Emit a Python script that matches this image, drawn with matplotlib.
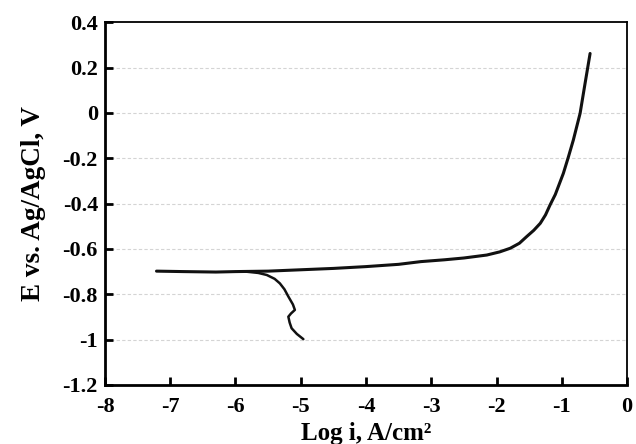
#!/usr/bin/env python3

import matplotlib
matplotlib.use("Agg")
import matplotlib.pyplot as plt


# anodic branch (log i, E)
anodic_logi = [-7.21, -6.8, -6.3, -6.0, -5.5, -5.0, -4.5, -4.0, -3.5, -3.16,
               -2.8, -2.5, -2.15, -1.95, -1.79, -1.65, -1.54, -1.43, -1.33,
               -1.25, -1.18, -1.10, -0.977, -0.90, -0.824, -0.72, -0.644, -0.567]
anodic_E = [-0.698, -0.700, -0.702, -0.700, -0.698, -0.692, -0.686, -0.678, -0.668,
            -0.656, -0.648, -0.640, -0.627, -0.613, -0.597, -0.575, -0.546, -0.518,
            -0.487, -0.450, -0.406, -0.36, -0.267, -0.195, -0.12, -0.002, 0.13, 0.262]

# cathodic branch
cathodic_logi = [-5.85, -5.78, -5.65, -5.52, -5.40, -5.32, -5.25, -5.19, -5.12,
                 -5.09, -5.15, -5.19, -5.17, -5.14, -5.06, -4.96]
cathodic_E = [-0.700, -0.702, -0.706, -0.715, -0.732, -0.752, -0.778, -0.81,
              -0.845, -0.869, -0.885, -0.899, -0.925, -0.95, -0.975, -0.998]

x_ticks = [-8, -7, -6, -5, -4, -3, -2, -1, 0]
y_ticks = [-1.2, -1.0, -0.8, -0.6, -0.4, -0.2, 0.0, 0.2, 0.4]
y_tick_labels = ["-1.2", "-1", "-0.8", "-0.6", "-0.4", "-0.2", "0", "0.2", "0.4"]


def main():
    plt.rcParams["font.family"] = "Liberation Serif"
    plt.rcParams["font.weight"] = "bold"
    plt.rcParams["axes.unicode_minus"] = False

    fig = plt.figure(figsize=(6.36, 4.44), dpi=100)
    ax = fig.add_axes([0.165, 0.133, 0.821, 0.817])

    for y in y_ticks[1:-1]:
        ax.axhline(y, color="#d4d4d4", linestyle=(0, (3, 2)), linewidth=0.8, zorder=0)

    ax.plot(anodic_logi, anodic_E, color="#111111", linewidth=2.2,
            solid_capstyle="round", solid_joinstyle="round")
    ax.plot(cathodic_logi, cathodic_E, color="#111111", linewidth=1.8,
            solid_capstyle="round", solid_joinstyle="round")

    ax.set_xlim(-8, 0)
    ax.set_ylim(-1.2, 0.4)
    ax.set_xticks(x_ticks)
    ax.set_xticklabels([str(t) for t in x_ticks])
    ax.set_yticks(y_ticks)
    ax.set_yticklabels(y_tick_labels)

    ax.tick_params(direction="in", length=6, width=2, labelsize=16)
    ax.tick_params(axis="x", top=False, pad=9)
    ax.tick_params(axis="y", right=False, pad=5)

    ax.spines["left"].set_linewidth(2.0)
    ax.spines["bottom"].set_linewidth(2.0)
    ax.spines["top"].set_linewidth(1.3)
    ax.spines["right"].set_linewidth(1.3)

    ax.set_xlabel("Log i, A/cm²", fontsize=18, fontweight="bold", labelpad=3)
    ax.set_ylabel("E vs. Ag/AgCl, V", fontsize=19.5, fontweight="bold", labelpad=12)

    fig.savefig("out.png", dpi=100)
    plt.close(fig)


if __name__ == "__main__":
    main()
